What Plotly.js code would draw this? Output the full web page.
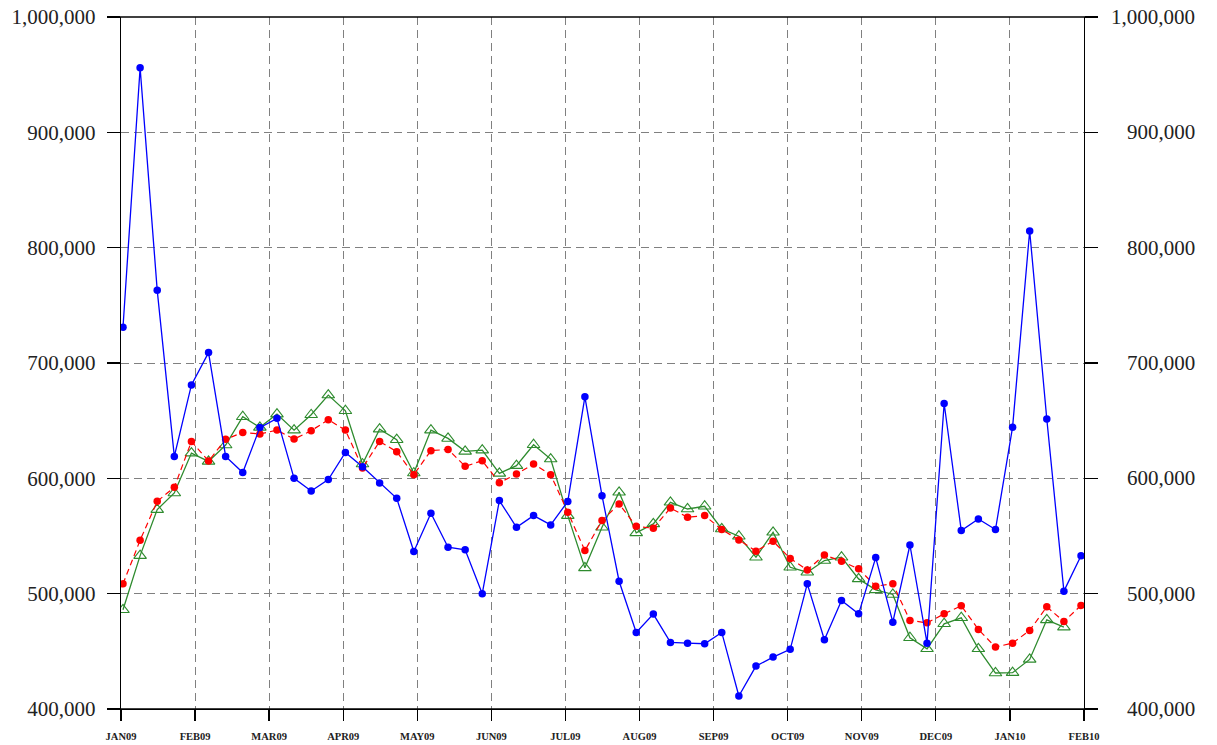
<!DOCTYPE html>
<html>
<head>
<meta charset="utf-8">
<script src="https://cdn.plot.ly/plotly-3.0.1.min.js"></script>
<style>
  html, body { margin: 0; padding: 0; background: #ffffff; }
  #chart { width: 1217px; height: 745px; }
</style>
</head>
<body>
<div id="chart"></div>
<script>
// Month tick labels (equally spaced on the axis)
const monthLabels = ["JAN09","FEB09","MAR09","APR09","MAY09","JUN09","JUL09","AUG09","SEP09","OCT09","NOV09","DEC09","JAN10","FEB10"];

// Value-axis tick values
const yTickValues = [400000, 500000, 600000, 700000, 800000, 900000, 1000000];

// Weekly series values
const blueSeries = [731000, 956000, 763000, 619000, 681000, 709000, 619000, 605000, 644000, 652000,
  600000, 589000, 599000, 622500, 610000, 596000, 582700, 536500, 569700, 540300,
  538000, 500000, 580700, 557600, 567700, 559600, 580000, 670700, 585000, 510800,
  466400, 482300, 457700, 457100, 456600, 466400, 411300, 437200, 445000, 451700,
  508500, 460000, 494000, 482500, 531300, 475300, 542200, 457100, 664900, 554700,
  564800, 555600, 644400, 814500, 651400, 502200, 532800];

const redSeries = [508500, 546300, 580100, 592200, 632000, 615000, 633800, 639800, 638400, 641800,
  634000, 641300, 650800, 641800, 609000, 632000, 623100, 603200, 624000, 625100,
  610400, 615300, 596200, 603700, 612400, 603200, 570600, 537400, 563400, 577800,
  558400, 556700, 574300, 566200, 567700, 555600, 546600, 536800, 545500, 530500,
  520600, 533600, 528100, 521500, 506500, 508500, 476800, 474700, 482500, 489500,
  469000, 453700, 457100, 468100, 488600, 475900, 489800];

const greenSeries = [486000, 533000, 572900, 587300, 621900, 614700, 628900, 653400, 644200, 655700,
  641800, 655100, 672200, 658600, 612400, 642700, 633500, 604600, 641800, 634600,
  623400, 624500, 604300, 611000, 629100, 616700, 567700, 522400, 557600, 587900,
  552700, 560500, 579200, 573400, 575800, 556100, 549800, 531600, 553200, 522900,
  518600, 528700, 531600, 512800, 503300, 499300, 461800, 452200, 473900, 479100,
  452200, 431200, 431500, 443000, 477300, 471000];

// Week positions (x categories as week index)
const weeksBlue = blueSeries.map((_, i) => i);
const weeksRed = redSeries.map((_, i) => i);
const weeksGreen = greenSeries.map((_, i) => i);

// Layout helpers
const xStart = -0.117, xEnd = 56.175;
const monthStep = (xEnd - xStart) / 13;
const tickVals = monthLabels.map((_, m) => xStart + m * monthStep);

const serif = '"Liberation Serif", "Times New Roman", serif';

const traces = [
  {
    x: weeksGreen, y: greenSeries, type: 'scatter', mode: 'lines+markers',
    line: { color: '#2e8b2e', width: 1.3 },
    marker: { symbol: 'triangle-up-open', size: 11, color: '#2e8b2e', line: { width: 1.1, color: '#2e8b2e' } },
    showlegend: false, hoverinfo: 'y'
  },
  {
    x: weeksRed, y: redSeries, type: 'scatter', mode: 'lines+markers',
    line: { color: '#ff0000', width: 1.2, dash: '6px,4px' },
    marker: { symbol: 'circle', size: 7.5, color: '#ff0000' },
    showlegend: false, hoverinfo: 'y'
  },
  {
    x: weeksBlue, y: blueSeries, type: 'scatter', mode: 'lines+markers',
    line: { color: '#0000ff', width: 1.3 },
    marker: { symbol: 'circle', size: 7.5, color: '#0000ff' },
    showlegend: false, hoverinfo: 'y'
  },
  {
    x: weeksBlue, y: blueSeries, type: 'scatter', mode: 'lines', yaxis: 'y2',
    line: { color: 'rgba(0,0,0,0)', width: 0 }, showlegend: false, hoverinfo: 'skip'
  }
];

const tickFont = { family: serif, size: 21, color: '#222222' };

// Right-side labels are right-aligned in the reference: draw them as annotations
const rightLabels = yTickValues.map(v => ({
  xref: 'paper', yref: 'y', x: 1.1173, y: v, xanchor: 'right', yanchor: 'middle',
  text: v.toLocaleString('en-US'), showarrow: false, font: tickFont
}));

const layout = {
  width: 1217, height: 745,
  margin: { l: 121, r: 133, t: 17, b: 36, pad: 0 },
  paper_bgcolor: '#ffffff', plot_bgcolor: '#ffffff',
  showlegend: false,
  xaxis: {
    range: [xStart, xEnd],
    tickmode: 'array', tickvals: tickVals, ticktext: monthLabels,
    ticks: 'outside', ticklen: 11, tickwidth: 1.3, tickcolor: '#000000',
    ticklabelstandoff: 6,
    showline: true, linecolor: '#000000', linewidth: 1.3,
    showgrid: true, gridcolor: '#808080', gridwidth: 1, griddash: '8px,5px',
    zeroline: false,
    tickfont: { family: serif, size: 10.5, color: '#222222', weight: 'bold' },
    fixedrange: true
  },
  yaxis: {
    range: [400000, 1000000],
    tickmode: 'array', tickvals: yTickValues,
    tickformat: ',d',
    ticks: 'outside', ticklen: 13, tickwidth: 1.3, tickcolor: '#000000',
    ticklabelstandoff: 7,
    showline: true, linecolor: '#000000', linewidth: 1.3,
    showgrid: true, gridcolor: '#808080', gridwidth: 1, griddash: '8px,5px',
    zeroline: false, tickfont: tickFont, fixedrange: true
  },
  yaxis2: {
    overlaying: 'y', side: 'right',
    range: [400000, 1000000],
    tickmode: 'array', tickvals: yTickValues,
    showticklabels: false,
    ticks: 'outside', ticklen: 13, tickwidth: 1.3, tickcolor: '#000000',
    showline: true, linecolor: '#000000', linewidth: 1.3,
    showgrid: false, zeroline: false, fixedrange: true
  },
  annotations: rightLabels,
  shapes: [
    { type: 'line', xref: 'paper', yref: 'paper', x0: -0.0135, x1: 1.0125, y0: 1, y1: 1,
      line: { color: '#000000', width: 1.3 } },
    { type: 'line', xref: 'paper', yref: 'paper', x0: -0.0135, x1: 1.0125, y0: 0, y1: 0,
      line: { color: '#000000', width: 1.3 } }
  ]
};

Plotly.newPlot('chart', traces, layout, { displayModeBar: false, staticPlot: true });
</script>
</body>
</html>
